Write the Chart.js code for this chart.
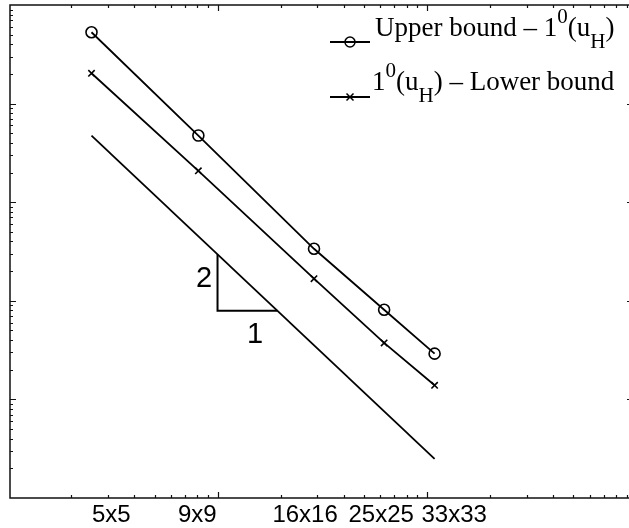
<!DOCTYPE html>
<html>
<head>
<meta charset="utf-8">
<style>
  html, body { margin: 0; padding: 0; background: #fff; overflow: hidden; }
  canvas { display: block; }
</style>
<script src="https://cdn.jsdelivr.net/npm/chart.js@4.4.1/dist/chart.umd.min.js"></script>
</head>
<body>
<canvas id="c" width="629" height="528"></canvas>
<script>
// Mesh sizes (number of nodes) and the labels written under the axis
const meshNodes  = [25, 81, 289, 625, 1089];
const meshLabels = ['5x5', '9x9', '16x16', '25x25', '33x33'];

// Error gaps for each mesh
const upperGap = [0.529, 0.0474, 0.00337, 0.000812, 0.000291];
const lowerGap = [0.203, 0.0208, 0.001675, 0.000374, 0.000139];

// Reference line of slope -2 and its slope triangle
const slopeLineX = [25, 1089];
const slopeLineY = [0.0474, 2.49e-5];
const triangleX  = [100, 100, 193];
const triangleY  = [0.00296, 0.000794, 0.000794];

// Where the mesh labels sit along the (log) x axis
const labelAnchors = [31.1, 80.0, 262, 605, 1350];

const pts = (xs, ys) => xs.map((x, i) => ({ x, y: ys[i] }));

// Boxed frame with MATLAB-style inward log ticks; the right edge of the
// box lies just past the canvas edge, so only its tick stubs show.
const framePlugin = {
  id: 'frame',
  beforeDatasetsDraw(chart) {
    const { ctx, chartArea: a, scales: { x, y } } = chart;
    const rightEdge = a.right + 5;
    ctx.save();
    ctx.strokeStyle = '#111';
    ctx.lineWidth = 1.5;
    ctx.beginPath();
    ctx.moveTo(rightEdge, a.top); ctx.lineTo(a.left, a.top);
    ctx.lineTo(a.left, a.bottom); ctx.lineTo(rightEdge, a.bottom);
    ctx.stroke();

    ctx.lineWidth = 1.2;
    ctx.beginPath();
    for (let e = 1; e <= 3; e++) {
      for (let m = 1; m <= 9; m++) {
        const v = m * Math.pow(10, e);
        if (v <= x.min) continue;
        const px = Math.round(x.getPixelForValue(v)) + 0.5;
        if (px > rightEdge) continue;
        const len = m === 1 ? 6 : 3;
        ctx.moveTo(px, a.bottom); ctx.lineTo(px, a.bottom - len);
        ctx.moveTo(px, a.top);    ctx.lineTo(px, a.top + len);
      }
    }
    for (let e = -5; e <= 0; e++) {
      for (let m = 1; m <= 9; m++) {
        const v = m * Math.pow(10, e);
        if (v <= y.min * 1.0001 || v >= y.max * 0.9999) continue;
        const py = Math.round(y.getPixelForValue(v)) + 0.5;
        const len = m === 1 ? 6 : 3;
        ctx.moveTo(a.left, py);    ctx.lineTo(a.left + len, py);
        ctx.moveTo(rightEdge, py); ctx.lineTo(rightEdge - len, py);
      }
    }
    ctx.stroke();

    // mesh labels under the axis
    ctx.fillStyle = '#000';
    ctx.textAlign = 'center';
    ctx.textBaseline = 'alphabetic';
    ctx.font = '24px "Liberation Sans", Arial, sans-serif';
    meshLabels.forEach((t, i) => ctx.fillText(t, x.getPixelForValue(labelAnchors[i]), a.bottom + 24));
    ctx.restore();
  }
};

// Slope labels and the legend with super/subscripts
const notesPlugin = {
  id: 'notes',
  afterDatasetsDraw(chart) {
    const { ctx, scales: { x, y } } = chart;
    ctx.save();
    ctx.fillStyle = '#000';
    ctx.textAlign = 'center';
    ctx.textBaseline = 'middle';
    ctx.font = '29px "Liberation Sans", Arial, sans-serif';
    ctx.fillText('2', x.getPixelForValue(86.3), y.getPixelForValue(0.001675));
    ctx.fillText('1', x.getPixelForValue(151), y.getPixelForValue(0.000454));

    // legend samples
    ctx.strokeStyle = '#000';
    ctx.lineWidth = 1.8;
    ctx.beginPath();
    ctx.moveTo(330, 42); ctx.lineTo(370, 42);
    ctx.moveTo(330, 97); ctx.lineTo(370, 97);
    ctx.stroke();
    ctx.lineWidth = 1.5;
    ctx.beginPath();
    ctx.arc(350, 42, 5, 0, Math.PI * 2);
    ctx.stroke();
    ctx.beginPath();
    ctx.moveTo(346.5, 93.5); ctx.lineTo(353.5, 100.5);
    ctx.moveTo(353.5, 93.5); ctx.lineTo(346.5, 100.5);
    ctx.stroke();

    const serif = s => s + 'px "Liberation Serif", "Times New Roman", serif';
    const rich = (x0, base, parts) => {
      ctx.textAlign = 'left';
      ctx.textBaseline = 'alphabetic';
      let cx = x0;
      for (const p of parts) {
        ctx.font = serif(p.s);
        ctx.fillText(p.t, cx, base + (p.dy || 0));
        cx += ctx.measureText(p.t).width;
      }
    };
    rich(375, 36, [
      { t: 'Upper bound \u2013 1', s: 27 },
      { t: '0', s: 21, dy: -13 },
      { t: '(u', s: 27 },
      { t: 'H', s: 21, dy: 12 },
      { t: ')', s: 27 }
    ]);
    rich(372, 90, [
      { t: '1', s: 27 },
      { t: '0', s: 21, dy: -13 },
      { t: '(u', s: 27 },
      { t: 'H', s: 21, dy: 12 },
      { t: ') \u2013 Lower bound', s: 27 }
    ]);
    ctx.restore();
  }
};

const lineStyle = {
  showLine: true,
  borderColor: '#000',
  borderWidth: 1.8,
  pointBorderColor: '#000',
  pointBackgroundColor: 'rgba(0,0,0,0)',
  pointBorderWidth: 1.6,
  tension: 0
};

new Chart(document.getElementById('c'), {
  type: 'scatter',
  data: {
    datasets: [
      { ...lineStyle, label: 'Upper bound \u2013 1\u2070(u_H)', data: pts(meshNodes, upperGap),
        pointStyle: 'circle', pointRadius: 5.5 },
      { ...lineStyle, label: '1\u2070(u_H) \u2013 Lower bound', data: pts(meshNodes, lowerGap),
        pointStyle: 'crossRot', pointRadius: 4.5 },
      { ...lineStyle, label: 'slope', data: pts(slopeLineX, slopeLineY), pointRadius: 0 },
      { ...lineStyle, label: 'triangle', data: pts(triangleX, triangleY), pointRadius: 0, borderWidth: 2 }
    ]
  },
  options: {
    responsive: false,
    animation: false,
    devicePixelRatio: 1,
    layout: { autoPadding: false, padding: { left: 10, top: 5, right: 1, bottom: 30 } },
    plugins: { legend: { display: false }, tooltip: { enabled: false } },
    scales: {
      x: { type: 'logarithmic', min: 10.2, max: 9140, display: false },
      y: { type: 'logarithmic', min: 1e-5, max: 1, display: false }
    }
  },
  plugins: [framePlugin, notesPlugin]
});
</script>
</body>
</html>
